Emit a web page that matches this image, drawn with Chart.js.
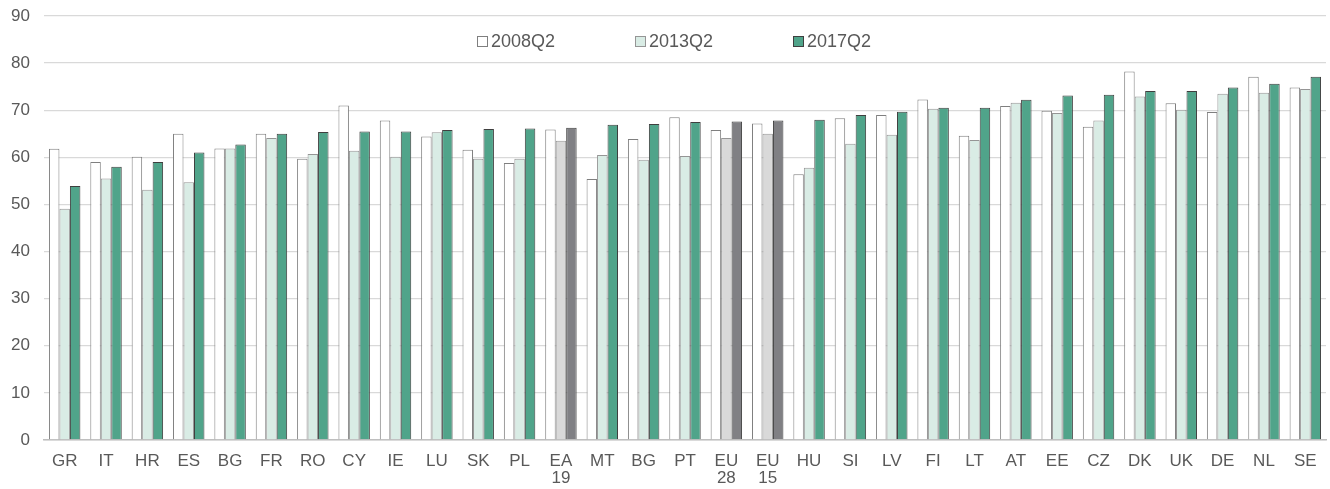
<!DOCTYPE html>
<html>
<head>
<meta charset="utf-8">
<script src="https://cdn.jsdelivr.net/npm/chart.js@4/dist/chart.umd.min.js"></script>
<style>
html,body{margin:0;padding:0;background:#fff;}
#wrap{width:1330px;height:489px;position:relative;}
</style>
</head>
<body>
<div id="wrap"><canvas id="c"></canvas></div>
<script>
const categories = ['GR','IT','HR','ES','BG','FR','RO','CY','IE','LU','SK','PL',['EA','19'],'MT','BG','PT',['EU','28'],['EU','15'],'HU','SI','LV','FI','LT','AT','EE','CZ','DK','UK','DE','NL','SE'];
const aggregateIndexes = [12, 16, 17];
const seriesLabels = ['2008Q2','2013Q2','2017Q2'];
const values2008 = [61.8,59.0,60.1,65.0,61.9,65.0,59.7,71.0,67.8,64.4,61.6,58.8,65.9,55.4,63.9,68.5,65.8,67.2,56.4,68.3,69.0,72.3,64.6,70.9,69.9,66.5,78.2,71.5,69.6,77.1,74.8];
const values2013 = [49.1,55.5,53.1,54.7,61.9,64.1,60.7,61.4,60.1,65.3,59.7,59.7,63.5,60.5,59.5,60.3,64.1,65.0,57.8,62.9,64.8,70.3,63.7,71.6,69.4,67.8,72.9,70.1,73.5,73.7,74.5];
const values2017 = [53.9,58.0,59.0,61.0,62.7,65.0,65.4,65.5,65.5,65.8,66.0,66.1,66.3,66.9,67.1,67.5,67.6,67.8,68.0,69.0,69.7,70.5,70.5,72.2,73.1,73.3,74.1,74.1,74.8,75.6,77.1];
const yTicks = [0,10,20,30,40,50,60,70,80,90];

const isAgg = (ctx) => ctx && ctx.dataIndex !== undefined && aggregateIndexes.includes(ctx.dataIndex);

const FONT = "'Liberation Sans', Arial, sans-serif";
const TEXT_COLOR = '#595959';

// Legend drawn inside the plot area, horizontally, using dataset labels/styles
const insideLegend = {
  id: 'insideLegend',
  afterDraw(chart) {
    const { ctx, chartArea } = chart;
    const center = (chartArea.left + chartArea.right) / 2;
    const startX = center - 208;
    const step = 158;
    const cy = chartArea.top + 25;
    ctx.save();
    ctx.font = "18px " + FONT;
    ctx.textBaseline = 'middle';
    ctx.textAlign = 'left';
    chart.data.datasets.forEach((ds, i) => {
      const x = startX + i * step;
      const bg = typeof ds.backgroundColor === 'function' ? ds.backgroundColor({}) : ds.backgroundColor;
      ctx.fillStyle = bg;
      ctx.fillRect(x + 0.5, cy - 5 + 0.5, 10, 10);
      ctx.strokeStyle = ds.borderColor;
      ctx.lineWidth = 1;
      ctx.strokeRect(x + 0.5, cy - 5 + 0.5, 10, 10);
      ctx.fillStyle = TEXT_COLOR;
      ctx.fillText(ds.label, x + 14, cy + 1);
    });
    ctx.restore();
  }
};

new Chart(document.getElementById('c'), {
  type: 'bar',
  data: {
    labels: categories,
    datasets: [
      {
        label: seriesLabels[0],
        data: values2008,
        backgroundColor: '#ffffff',
        borderColor: '#7f7f7f',
        borderWidth: 1
      },
      {
        label: seriesLabels[1],
        data: values2013,
        backgroundColor: (ctx) => isAgg(ctx) ? '#d9d9d9' : '#d9ece5',
        borderColor: '#959595',
        borderWidth: 1
      },
      {
        label: seriesLabels[2],
        data: values2017,
        backgroundColor: (ctx) => isAgg(ctx) ? '#808084' : '#50a48a',
        borderColor: '#3f3f3f',
        borderWidth: 1
      }
    ]
  },
  options: {
    responsive: true,
    maintainAspectRatio: false,
    animation: false,
    datasets: {
      bar: { categoryPercentage: 0.76, barPercentage: 1.0, borderSkipped: 'bottom' }
    },
    layout: { padding: { top: 16, left: 0, right: 4, bottom: 0 } },
    plugins: {
      legend: { display: false },
      tooltip: { enabled: false }
    },
    scales: {
      x: {
        grid: { display: false, drawTicks: false },
        border: { display: true, color: '#bfbfbf', width: 1.5 },
        afterFit: (axis) => { axis.height = 49; },
        ticks: {
          color: TEXT_COLOR,
          padding: 13,
          autoSkip: false,
          maxRotation: 0,
          font: { family: FONT, size: 17, lineHeight: 1.0 }
        }
      },
      y: {
        min: 0,
        max: 90,
        afterBuildTicks: (axis) => { axis.ticks = yTicks.map(v => ({ value: v })); },
        afterFit: (axis) => { axis.width = 44; axis.paddingTop = 0; axis.paddingBottom = 0; },
        grid: { color: '#d9d9d9', lineWidth: 1.3, drawTicks: false },
        border: { display: false },
        ticks: {
          color: TEXT_COLOR,
          padding: 14,
          font: { family: FONT, size: 17 }
        }
      }
    }
  },
  plugins: [insideLegend]
});
</script>
</body>
</html>
